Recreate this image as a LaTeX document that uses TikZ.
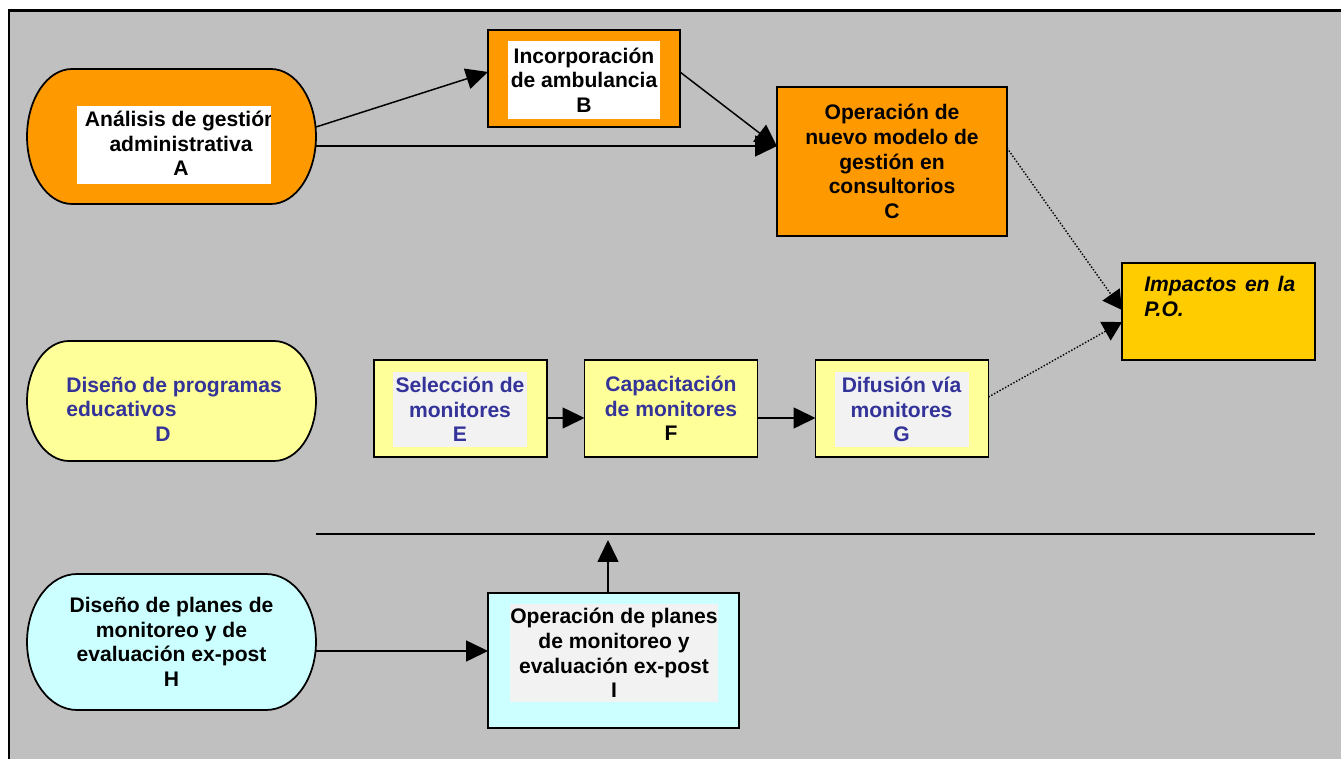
\documentclass[tikz,border=0pt]{standalone}
\usepackage{fontspec}
\setmainfont{Liberation Sans}
\usetikzlibrary{arrows.meta}

\definecolor{fondo}{HTML}{C0C0C0}
\definecolor{naranja}{HTML}{FF9900}
\definecolor{oro}{HTML}{FFCC00}
\definecolor{amarillo}{HTML}{FFFF99}
\definecolor{cian}{HTML}{CCFFFF}
\definecolor{grisclaro}{HTML}{F2F2F2}
\definecolor{azul}{HTML}{333399}

\tikzset{
  hueco/.style={inner sep=0pt, outer sep=0pt},
  caja/.style={draw, line width=1pt, inner sep=0pt, outer sep=0pt},
  borde/.style={line width=1pt},
  texto/.style={inner sep=0pt, align=center, font=\bfseries\fontsize{12}{14}\selectfont},
  flecha/.style={-{Triangle[length=0.44cm,width=0.42cm]}, line width=0.85pt},
  punteada/.style={-{Triangle[length=0.38cm,width=0.42cm]}, line width=0.8pt, dash pattern=on 0.8pt off 1pt},
  linea/.style={line width=1.1pt}
}

\begin{document}
\begin{tikzpicture}[x=0.02cm, y=0.02cm]
\useasboundingbox (0,0) rectangle (1341,-759);
% marco
\filldraw[fill=fondo, line width=1.7pt] (9,-11) rectangle (1380,-800);

% A
\node[hueco, minimum width=5.78cm, minimum height=2.7cm] (A) at (171.5,-136.5) {};
\filldraw[borde, fill=naranja] ([xshift=0.9cm]A.north west) -- ([xshift=-0.9cm]A.north east)
  arc[start angle=90, end angle=-90, x radius=0.9cm, y radius=1.35cm]
  -- ([xshift=0.9cm]A.south west)
  arc[start angle=270, end angle=90, x radius=0.9cm, y radius=1.35cm] -- cycle;
\node[hueco, fill=white, minimum width=3.88cm, minimum height=1.56cm] (Ablanco) at (174,-145) {};
\begin{scope}
\clip (Ablanco.south west) rectangle (Ablanco.north east);
\node[texto] (Atxt) at (181,-143.5) {Análisis de gestión\\administrativa\\A};
\end{scope}

% B y C
\node[caja, fill=naranja, minimum width=3.84cm, minimum height=1.94cm] (B) at (584,-78.5) {};
\node[texto, fill=white, minimum width=3.04cm, minimum height=1.56cm] (Btxt) at (584,-80) {Incorporación\\de ambulancia\\B};
\node[caja, texto, fill=naranja, minimum width=4.6cm, minimum height=2.98cm] (C) at (892,-161.5) {Operación de\\nuevo modelo de\\gestión en\\consultorios\\C};

% impactos
\node[caja, fill=oro, minimum width=3.86cm, minimum height=1.94cm] (P) at (1218.5,-311.5) {};
\node[texto, font=\bfseries\itshape\fontsize{12}{14}\selectfont, align=left, anchor=north west] (Ptxt) at (1144,-276) {\makebox[3.02cm][s]{Impactos en la}\\P.O.};

% D
\node[hueco, minimum width=5.78cm, minimum height=2.4cm] (D) at (171.5,-401) {};
\filldraw[borde, fill=amarillo] ([xshift=0.84cm]D.north west) -- ([xshift=-0.84cm]D.north east)
  arc[start angle=90, end angle=-90, x radius=0.84cm, y radius=1.2cm]
  -- ([xshift=0.84cm]D.south west)
  arc[start angle=270, end angle=90, x radius=0.84cm, y radius=1.2cm] -- cycle;
\node[texto, text=azul, align=left, anchor=west] (Dtxt) at (66,-409) {Diseño de programas\\educativos\\\hspace*{1.78cm}D};

% E, F, G
\node[caja, fill=amarillo, minimum width=3.46cm, minimum height=1.94cm] (E) at (460.5,-408.5) {};
\node[texto, text=azul, fill=grisclaro, minimum width=2.68cm, minimum height=1.5cm] (Etxt) at (460,-409.5) {Selección de\\monitores\\E};
\node[caja, texto, text=azul, fill=amarillo, minimum width=3.46cm, minimum height=1.94cm] (F) at (671,-408.5) {Capacitación\\de monitores\\\textcolor{black}{F}};
\node[caja, fill=amarillo, minimum width=3.46cm, minimum height=1.94cm] (G) at (902,-408.5) {};
\node[texto, text=azul, fill=grisclaro, minimum width=2.68cm, minimum height=1.5cm] (Gtxt) at (901.5,-409.5) {Difusión vía\\monitores\\G};

% barra
\coordinate (barraI) at (316,-534);
\coordinate (barraD) at (1315,-534);
\draw[linea] (barraI) -- (barraD);

% H
\node[hueco, minimum width=5.78cm, minimum height=2.72cm] (H) at (171.5,-642) {};
\filldraw[borde, fill=cian] ([xshift=1cm]H.north west) -- ([xshift=-1cm]H.north east)
  arc[start angle=90, end angle=-90, x radius=1cm, y radius=1.36cm]
  -- ([xshift=1cm]H.south west)
  arc[start angle=270, end angle=90, x radius=1cm, y radius=1.36cm] -- cycle;
\node[texto] (Htxt) at (H.center) {Diseño de planes de\\monitoreo y de\\evaluación ex-post\\H};

% I
\node[caja, fill=cian, minimum width=5.02cm, minimum height=2.7cm] (I) at (613.5,-660.5) {};
\node[texto, fill=grisclaro, minimum width=4.16cm, minimum height=1.96cm] (Itxt) at (614,-653) {Operación de planes\\de monitoreo y\\evaluación ex-post\\I};

% flechas
\draw[flecha] ([yshift=0.19cm]A.east) -- ([yshift=0.13cm]B.west);
\draw[flecha] ([yshift=-0.19cm]A.east) -- ([yshift=-0.19cm]A.east -| C.west);
\draw[flecha] ([yshift=0.13cm]B.east) -- ([yshift=0.3cm]C.west);
\draw[punteada] ([yshift=0.27cm]C.east) -- ([yshift=0.03cm]P.west);
\draw[punteada] ([yshift=0.23cm]G.east) -- ([yshift=-0.21cm]P.west);
\draw[flecha] ([yshift=-0.19cm]E.east) -- ([yshift=-0.19cm]F.west);
\draw[flecha] ([yshift=-0.19cm]F.east) -- ([yshift=-0.19cm]G.west);
\draw[flecha] ([yshift=-0.18cm]H.east) -- ([yshift=-0.18cm]H.east -| I.west);
\draw[flecha, shorten >=0.12cm] ([xshift=-0.11cm]I.north) -- ([xshift=-0.11cm]I.north |- barraI);

\end{tikzpicture}
\end{document}
